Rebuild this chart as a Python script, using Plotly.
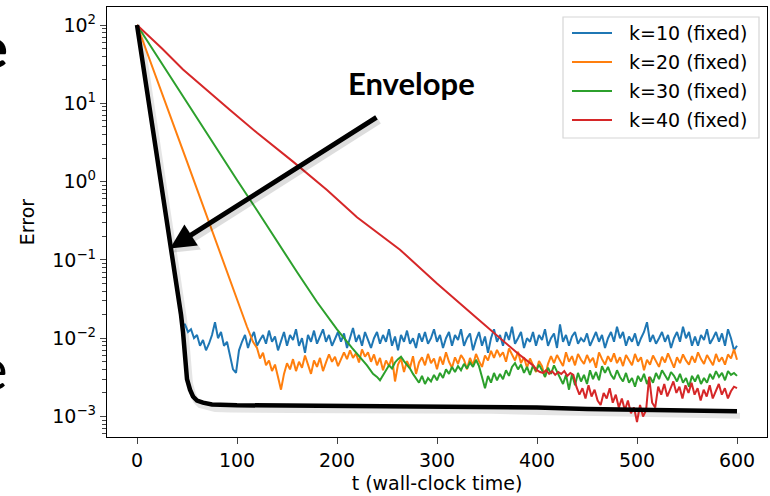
import numpy as np
import plotly.graph_objects as go

# ---------------- data ----------------
# envelope (black)
env_t = [0, 10, 20, 30, 36, 40, 44, 46, 48, 50, 53, 56, 60, 66, 75, 90, 100, 150, 200, 250, 300, 350, 400, 450, 500, 550, 600]
env_v = [100, 15, 2.2, 0.33, 0.1, 0.045, 0.02, 0.012, 0.005, 0.003, 0.0022, 0.0018, 0.0016, 0.0015, 0.00142, 0.0014,
         0.00139, 0.00138, 0.00137, 0.00137, 0.00136, 0.00135, 0.0013, 0.00125, 0.00122, 0.0012, 0.00117]

# k=10: fast decay then noisy floor (floor values in units of 1e-3)
k10_decay_t = [0, 10, 20, 30, 36, 40, 44, 46]
k10_decay_v = [100, 15, 2.2, 0.33, 0.1, 0.045, 0.02, 0.015]
k10_floor_start, k10_floor_end = 48, 600
k10_floor_milli = [
    15, 12, 13, 10, 11, 8, 9.5, 7, 8.5, 11,
    16, 10, 12, 8, 9, 6, 4, 3.6, 7, 9,
    11, 7.5, 10, 12, 8, 9.5, 11, 8.5, 12.5, 9,
    10.5, 7, 9, 12, 8, 11, 9.5, 13, 8, 10,
    6.5, 11, 9, 12.5, 8.5, 10.5, 13, 9, 11, 8,
    10, 12, 9, 11.5, 7.5, 10, 13.5, 9, 11, 8,
    12, 9.5, 7.5, 10, 12, 8.5, 11, 9, 13, 8,
    10.5, 7, 11, 9, 12.5, 8.5, 10, 7.5, 11.5, 9,
    12, 8.5, 10, 13, 9, 11, 7.5, 10, 12, 8,
    11, 9.5, 13, 8, 10, 11.5, 7, 9.5, 12, 8,
    10.5, 6.5, 10, 13, 9, 11, 8, 12, 9.5, 14,
    8.5, 10, 12, 7.5, 10, 9, 12, 8, 11, 9.5,
    13, 8, 10, 11.5, 7.5, 15, 9, 11, 8, 10.5,
    12, 8.5, 10, 9, 11.5, 8, 10, 12, 9, 11,
    7.5, 10, 12, 9, 14, 10, 12, 8, 10.5, 9,
    11.5, 8, 10, 12, 16, 9, 11, 8.5, 10, 12,
    9, 11, 7.5, 10, 12, 9, 14, 10, 12, 8,
    10.5, 8, 11, 9.5, 13, 8.5, 10, 12, 9, 11.5,
    8, 13, 10, 7, 8]

# k=20
k20_decay_t = [0, 10, 20, 30, 40, 50, 60, 70, 80, 90, 100, 110, 116]
k20_decay_v = [100, 44, 20, 9, 4, 1.8, 0.8, 0.35, 0.16, 0.07, 0.032, 0.014, 0.009]
k20_floor_start, k20_floor_end = 120, 600
k20_floor_milli = [
    7.5, 5.5, 6.5, 4.5, 5.2, 3.8, 4.6, 3.2, 2.2, 3.5,
    4.8, 4, 5.4, 3.8, 5, 4.2, 6, 4.6, 3.5, 5.2,
    4.3, 5.6, 3.8, 4.9, 6.2, 5, 5.8, 4.4, 5.3, 6.6,
    5.4, 7, 5.6, 6.4, 4.9, 7.2, 5.8, 6.6, 5, 6.2,
    4.5, 5.6, 3.9, 5.2, 4.4, 5.8, 2.8, 4.6, 5.5, 3.7,
    5.1, 4.2, 5.9, 3.5, 4.9, 5.7, 4.5, 6.3, 4.8, 5.5,
    4, 5.8, 4.6, 6.6, 5, 4.2, 5.7, 4.7, 6.1, 5.3,
    4, 5.6, 4.5, 6.3, 5.1, 4.3, 6, 5.2, 6.9, 5.6,
    7.1, 5.9, 6.6, 5, 7.4, 6.1, 5.2, 6.7, 4.8, 5.7,
    4.2, 5.5, 4.6, 3.7, 5.1, 4.4, 3.2, 4.7, 5.9, 4.8,
    6.1, 5.2, 4.4, 6.6, 5, 5.9, 4.5, 6.3, 5.3, 4.7,
    6.1, 5, 5.6, 4.2, 6.6, 5.4, 4.6, 5.9, 5, 6.4,
    4.8, 5.7, 4.4, 6.1, 5.2, 4.5, 6.3, 5, 5.7, 3.9,
    5.3, 4.6, 6, 5, 4.3, 5.8, 4.9, 6.4, 5.1, 4.2,
    5.7, 4.8, 6.2, 5.2, 4.6, 5.9, 4.9, 6.6, 5.4, 4.7,
    6.1, 5.2, 4.5, 6.3, 5, 5.7, 4.6, 6.2, 5.5, 7.2,
    5.3]

# k=30
k30_decay_t = [0, 20, 40, 60, 80, 100, 120, 140, 160, 180, 200, 215, 230, 236]
k30_decay_v = [100, 40, 16, 6.5, 2.6, 1.05, 0.43, 0.17, 0.07, 0.029, 0.013, 0.0075, 0.0045, 0.0035]
k30_floor_start, k30_floor_end = 240, 600
k30_floor_milli = [
    3.2, 2.9, 3.4, 3.9, 4.5, 4.1, 4.9, 5.4, 5.8, 5.1,
    4.6, 4.1, 3.5, 3.1, 2.7, 3.3, 2.6, 3.1, 2.8, 3.4,
    2.9, 3.6, 3.1, 4, 3.5, 4.3, 3.7, 4.4, 3.9, 4.7,
    4.1, 4.9, 4.3, 5.3, 4.4, 3.2, 2.3, 3.3, 2.7, 3.6,
    2.9, 3.5, 3, 3.9, 3.3, 4.3, 4.8, 4, 4.6, 3.6,
    4.3, 3.4, 4.5, 3.8, 4.6, 3.9, 3.2, 4.2, 3.5, 4.5,
    3.7, 3, 2.6, 3.4, 2.2, 3.5, 2.5, 3.6, 2.8, 3.4,
    2.6, 3.9, 3, 3.7, 2.9, 4.4, 3.6, 4.3, 3.4, 3,
    3.9, 3.2, 2.8, 3.6, 2.7, 3.1, 2.4, 3.3, 2.8, 3.5,
    2.6, 3.2, 2.7, 3.6, 3, 3.9, 3.4, 2.9, 3.7, 3.3,
    2.8, 3.5, 2.7, 3.1, 2.4, 3.3, 2.8, 3.4, 2.6, 3.1,
    2.7, 3.5, 3, 3.8, 3.2, 3.6, 2.9, 3.8, 3.4, 3.6,
    3.3]

# k=40
k40_decay_t = [0, 25, 46, 70, 93, 120, 156, 190, 220, 263, 300, 340, 363, 380, 396]
k40_decay_v = [100, 50, 27, 14.5, 8.2, 4.2, 1.8, 0.78, 0.35, 0.135, 0.05, 0.018, 0.010, 0.0065, 0.0045]
k40_floor_start, k40_floor_end = 400, 600
k40_floor_milli = [
    3.9, 3.7, 3.6, 3.9, 3.5, 3.8, 3.4, 3.7, 3.5, 3.8,
    3.3, 3.6, 3.4, 2.4, 1.9, 2.3, 1.7, 2.5, 1.8, 2.2,
    1.6, 1.4, 2.0, 1.7, 2.3, 1.5, 1.9, 1.3, 1.7, 1.2,
    1.6, 1.1, 1.3, 0.85, 1.4, 1.0, 1.2, 3.2, 1.5, 1.3,
    2.4, 1.9, 2.6, 1.8, 2.2, 2.8, 2.0, 2.4, 1.7, 2.5,
    2.0, 2.7, 1.9, 2.3, 1.6, 2.2, 1.8, 2.5, 1.7, 2.1,
    2.6, 1.9, 2.3, 1.7, 2.1, 2.4,
    2.3]

labels = ["k=10 (fixed)", "k=20 (fixed)", "k=30 (fixed)", "k=40 (fixed)"]
colors = ["#1f77b4", "#ff7f0e", "#2ca02c", "#d62728"]

y_tickvals = [1e-3, 1e-2, 1e-1, 1e0, 1e1, 1e2]
y_ticktext = ["10<sup>\u22123</sup>", "10<sup>\u22122</sup>", "10<sup>\u22121</sup>",
              "10<sup>0</sup>", "10<sup>1</sup>", "10<sup>2</sup>"]
x_tickvals = [0, 100, 200, 300, 400, 500, 600]


def build(dt, dv, fs, fe, fm):
    ft = np.linspace(fs, fe, len(fm))
    t = list(dt) + list(ft)
    v = list(dv) + [m * 1e-3 for m in fm]
    return t, v


series = [
    build(k10_decay_t, k10_decay_v, k10_floor_start, k10_floor_end, k10_floor_milli),
    build(k20_decay_t, k20_decay_v, k20_floor_start, k20_floor_end, k20_floor_milli),
    build(k30_decay_t, k30_decay_v, k30_floor_start, k30_floor_end, k30_floor_milli),
    build(k40_decay_t, k40_decay_v, k40_floor_start, k40_floor_end, k40_floor_milli),
]

FONT = "DejaVu Sans"
W, H = 770, 496
ML, MR, MT, MB = 107, 3, 7, 59
PW, PH = W - ML - MR, H - MT - MB
XR = [-30, 630]
YR = [-3.262, 2.23]
PX_PER_X = PW / (XR[1] - XR[0])
PX_PER_DEC = PH / (YR[1] - YR[0])


def px(xp):
    return (xp - ML) / PW


def py(yp):
    return 1 - (yp - MT) / PH


fig = go.Figure()

# soft shadow of the envelope (drawn on hidden, slightly offset axes)
fig.add_trace(go.Scatter(x=env_t, y=env_v, mode="lines", xaxis="x", yaxis="y",
                         line=dict(color="rgba(0,0,0,0.10)", width=6), showlegend=False, hoverinfo="skip"))

for (t, v), lab, c in zip(series, labels, colors):
    fig.add_trace(go.Scatter(x=t, y=v, mode="lines", name=lab, xaxis="x2", yaxis="y2",
                             line=dict(color=c, width=2), showlegend=False))

fig.add_trace(go.Scatter(x=env_t, y=env_v, mode="lines", xaxis="x2", yaxis="y2",
                         line=dict(color="black", width=4.5), showlegend=False))

sx, sy = 3, 4.5  # shadow offset in pixels
fig.update_layout(
    width=W, height=H,
    margin=dict(l=ML, r=MR, t=MT, b=MB),
    paper_bgcolor="white", plot_bgcolor="white",
    font=dict(family=FONT, size=19, color="black"),
    showlegend=False,
    xaxis=dict(range=[XR[0] - sx / PX_PER_X, XR[1] - sx / PX_PER_X], visible=False, domain=[0, 1]),
    yaxis=dict(type="log", range=[YR[0] + sy / PX_PER_DEC, YR[1] + sy / PX_PER_DEC], visible=False, domain=[0, 1]),
    xaxis2=dict(overlaying="x", range=XR, tickvals=x_tickvals, ticks="outside", ticklen=6, tickwidth=1.2,
                showline=True, mirror=True, linecolor="black", linewidth=1.3, showgrid=False, zeroline=False,
                tickfont=dict(family=FONT, size=19),
                title=dict(text="t (wall-clock time)", font=dict(family=FONT, size=19), standoff=6)),
    yaxis2=dict(overlaying="y", type="log", range=YR, tickvals=y_tickvals, ticktext=y_ticktext,
                ticks="outside", ticklen=6, tickwidth=1.2,
                showline=True, mirror=True, linecolor="black", linewidth=1.3, showgrid=False, zeroline=False,
                tickfont=dict(family=FONT, size=19),
                minor=dict(ticks="outside", ticklen=3.5, tickwidth=1, dtick="D1", showgrid=False),
                title=dict(text="Error", font=dict(family=FONT, size=19), standoff=12)),
)

# ---- hand-drawn legend box (matplotlib style) ----
leg_x0, leg_x1, leg_y0, leg_y1 = 563, 759, 17, 138
row_y = [33, 62, 91, 120]
fig.add_shape(type="rect", xref="paper", yref="paper", x0=px(leg_x0), x1=px(leg_x1), y0=py(leg_y1), y1=py(leg_y0),
              line=dict(color="#d6d6d6", width=1.2), fillcolor="white", layer="above")
for ry, lab, c in zip(row_y, labels, colors):
    fig.add_shape(type="line", xref="paper", yref="paper", x0=px(572), x1=px(612), y0=py(ry), y1=py(ry),
                  line=dict(color=c, width=2), layer="above")
    fig.add_annotation(xref="paper", yref="paper", x=px(627), y=py(ry), text=lab, showarrow=False,
                       xanchor="left", yanchor="middle", font=dict(family=FONT, size=19, color="black"))

# Arrow (with shadow) and the "Envelope" label
tip_x, tip_y = 33, np.log10(0.14)
for col, dx, dy in [("rgba(0,0,0,0.13)", 3, 4), ("black", 0, 0)]:
    fig.add_annotation(xref="x2", yref="y2", x=tip_x, y=tip_y, ax=208, ay=-132, axref="pixel", ayref="pixel",
                       text="", showarrow=True, arrowhead=2, arrowsize=1.0, arrowwidth=5, arrowcolor=col,
                       xshift=dx, yshift=-dy)
fig.add_annotation(xref="paper", yref="paper", x=px(411), y=py(83), text="<b>Envelope</b>", showarrow=False,
                   font=dict(family="Lato", size=31, color="black"), xanchor="center", yanchor="middle")

# cropped slide letters at the far left edge
fig.add_annotation(xref="paper", yref="paper", x=px(10), y=py(47), text="<b>e</b>",
                   showarrow=False, font=dict(family="Lato", size=56, color="black"), xanchor="right",
                   yanchor="middle")
fig.add_annotation(xref="paper", yref="paper", x=px(10), y=py(367), text="e",
                   showarrow=False, font=dict(family="Lato", size=58, color="black"), xanchor="right",
                   yanchor="middle")

fig.write_html("out.html")
